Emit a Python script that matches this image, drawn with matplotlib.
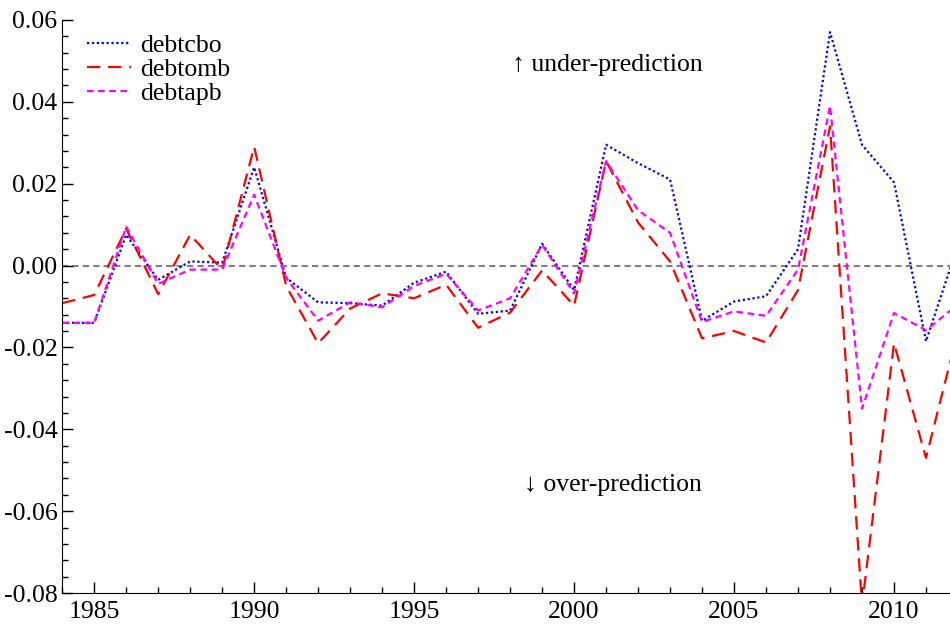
import matplotlib
matplotlib.use('Agg')
import matplotlib.pyplot as plt
from matplotlib.ticker import MultipleLocator, FormatStrFormatter

plt.rcParams['font.family'] = ['Liberation Serif', 'DejaVu Serif']
plt.rcParams['axes.unicode_minus'] = False

years = list(range(1984, 2013))

debtcbo = [-0.014, -0.014, 0.0075, -0.0035, 0.001, 0.0007, 0.024, -0.003, -0.009, -0.0092,
           -0.0098, -0.0042, -0.0015, -0.0118, -0.011, 0.0053, -0.006, 0.0295, 0.025, 0.021,
           -0.0135, -0.0088, -0.0075, 0.004, 0.057, 0.0295, 0.0203, -0.0185, 0.005]
debtomb = [-0.0092, -0.0072, 0.009, -0.007, 0.0075, -0.001, 0.029, -0.005, -0.019, -0.0105,
           -0.0068, -0.008, -0.0047, -0.0152, -0.0115, -0.0012, -0.0098, 0.0255, 0.0105, 0.001,
           -0.0178, -0.016, -0.0188, -0.006, 0.034, -0.083, -0.019, -0.047, -0.016]
debtapb = [-0.014, -0.014, 0.0095, -0.0045, -0.001, -0.001, 0.0173, -0.003, -0.0135, -0.009,
           -0.0102, -0.005, -0.002, -0.011, -0.008, 0.005, -0.0068, 0.0255, 0.0135, 0.008,
           -0.0138, -0.0112, -0.0123, -0.001, 0.039, -0.035, -0.0116, -0.0158, -0.0095]

fig = plt.figure(figsize=(9.5, 6.25), dpi=100)
ax = fig.add_axes([0.0655, 0.0512, 0.9345, 0.917])

# zero line
ax.axhline(0, color='#808080', linestyle=(0, (3, 2)), linewidth=1.5, zorder=1)

ax.plot(years, debtcbo, color='blue', linestyle=(0, (1, 1.2)), linewidth=1.6, label='debtcbo')
ax.plot(years, debtomb, color='red', linestyle=(0, (6, 3.5)), linewidth=1.6, label='debtomb')
ax.plot(years, debtapb, color='magenta', linestyle=(0, (3, 2)), linewidth=1.6, label='debtapb')

ax.set_xlim(1984, 2011.75)
ax.set_ylim(-0.08, 0.06)

ax.xaxis.set_major_locator(MultipleLocator(5))
ax.xaxis.set_minor_locator(MultipleLocator(1))
ax.yaxis.set_major_locator(MultipleLocator(0.02))
ax.yaxis.set_minor_locator(MultipleLocator(0.004))
ax.yaxis.set_major_formatter(FormatStrFormatter('%.2f'))

ax.tick_params(which='both', direction='in', labelsize=18.5, top=False, right=False)
ax.tick_params(which='major', length=8, width=1)
ax.tick_params(which='minor', length=4, width=1)
ax.tick_params(axis='x', pad=6)
ax.spines['top'].set_visible(False)
ax.spines['right'].set_visible(False)

ax.text(2001.05, 0.049, '↑ under-prediction', fontsize=18.5, ha='center', va='center',
        family=['Liberation Serif', 'DejaVu Sans'])
ax.text(2001.2, -0.0535, '↓ over-prediction', fontsize=18.5, ha='center', va='center',
        family=['Liberation Serif', 'DejaVu Sans'])

ax.legend(loc='upper left', frameon=False, fontsize=18.5, handlelength=1.7,
          handletextpad=0.35, labelspacing=0.05, borderaxespad=0.57,
          bbox_to_anchor=(0.0, 1.0192))

fig.savefig('out.png', dpi=100)
